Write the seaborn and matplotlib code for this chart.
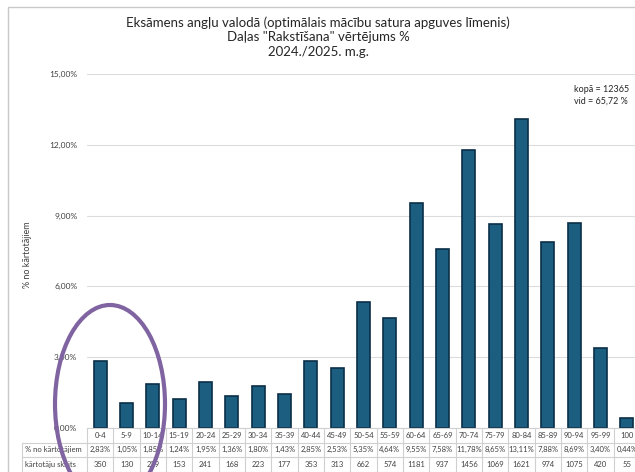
import numpy as np
import pandas as pd
import seaborn as sns
import matplotlib.pyplot as plt
from matplotlib.patches import Ellipse, Rectangle
from matplotlib.ticker import FuncFormatter

# data
categories = ["0-4", "5-9", "10-14", "15-19", "20-24", "25-29", "30-34", "35-39", "40-44", "45-49",
              "50-54", "55-59", "60-64", "65-69", "70-74", "75-79", "80-84", "85-89", "90-94", "95-99", "100"]
percent = [2.83, 1.05, 1.85, 1.24, 1.95, 1.36, 1.80, 1.43, 2.85, 2.53,
           5.35, 4.64, 9.55, 7.58, 11.78, 8.65, 13.11, 7.88, 8.69, 3.40, 0.44]
counts = [350, 130, 229, 153, 241, 168, 223, 177, 353, 313,
          662, 574, 1181, 937, 1456, 1069, 1621, 974, 1075, 420, 55]
yticks = [0, 3, 6, 9, 12, 15]

df = pd.DataFrame({"grupa": categories, "proc": percent, "skaits": counts})

sns.set_style("white")
plt.rcParams["font.family"] = ["Lato", "DejaVu Sans"]

W, H = 635, 472
fig = plt.figure(figsize=(W / 100, H / 100), dpi=100)

# chart border
fig.add_artist(Rectangle((8 / W, -0.1), 1.2, 1 - 7 / H + 0.1, transform=fig.transFigure,
                         fill=False, edgecolor="#c8c8c8", lw=1.0))

ax = fig.add_axes([87 / W, 1 - 428 / H, (640 - 87) / W, (428 - 74) / H])
sns.barplot(data=df, x="grupa", y="proc", ax=ax, width=0.5,
            color="#1b5e80", edgecolor="#0b2f48", linewidth=1.2, saturation=1)
ax.set_xlim(-0.5, len(categories) - 0.5)
ax.set_ylim(0, 15)
ax.set_yticks(yticks)
ax.yaxis.set_major_formatter(FuncFormatter(lambda v, p: f"{v:.2f}%".replace(".", ",")))
ax.tick_params(axis="y", labelsize=6, length=0, pad=7, labelcolor="#404040")
ax.set_xticks([])
ax.set_xlabel("")
ax.set_ylabel("")
ax.grid(axis="y", color="#dcdcdc", lw=0.8)
ax.set_axisbelow(True)
for s in ax.spines.values():
    s.set_visible(False)

# data table under the chart
trans = ax.get_xaxis_transform()
ah = 428 - 74
row_h = 14.5 / ah
bounds = [0, -row_h, -2 * row_h, -3 * row_h]
lab_left = -0.5 - 65 / 26.35
gc = "#d0d0d0"
n = len(categories)
ax.plot([-0.5, n - 0.5], [0, 0], color=gc, lw=0.8, transform=trans, clip_on=False)
for b in bounds[1:]:
    ax.plot([lab_left, n - 0.5], [b, b], color=gc, lw=0.8, transform=trans, clip_on=False)
for i in range(n + 1):
    ax.plot([i - 0.5, i - 0.5], [0, bounds[-1]], color=gc, lw=0.8, transform=trans, clip_on=False)
ax.plot([lab_left, lab_left], [bounds[1], bounds[-1]], color=gc, lw=0.8, transform=trans, clip_on=False)

rows = [categories,
        [f"{p:.2f}%".replace(".", ",") for p in percent],
        [str(c) for c in counts]]
for r, vals in enumerate(rows):
    ym = (bounds[r] + bounds[r + 1]) / 2
    for i, v in enumerate(vals):
        ax.text(i, ym, v, ha="center", va="center", fontsize=5.5, color="#404040",
                transform=trans, clip_on=False)
for r, lab in [(1, "% no kārtotājiem"), (2, "kārtotāju skaits")]:
    ym = (bounds[r] + bounds[r + 1]) / 2
    ax.text(lab_left + 0.1, ym, lab, ha="left", va="center", fontsize=5.5, color="#404040",
            transform=trans, clip_on=False)

fig.text(27 / W, 1 - 255 / H, "% no kārtotājiem", rotation=90, ha="center", va="center",
         fontsize=6.5, color="#404040")

fig.text(318 / W, 1 - 37 / H,
         "Eksāmens angļu valodā (optimālais mācību satura apguves līmenis)\n"
         "Daļas \"Rakstīšana\" vērtējums %\n2024./2025. m.g.",
         ha="center", va="center", fontsize=9.5, linespacing=1.25, color="#262626")

fig.text(574 / W, 1 - 95 / H, "kopā = 12365\nvid = 65,72 %", ha="left", va="center",
         fontsize=6.5, linespacing=1.4, color="#262626")

# purple highlight ellipse
fig.add_artist(Ellipse((110 / W, 1 - 404 / H), 110 / W, 198 / H, transform=fig.transFigure,
                       fill=False, edgecolor="#8064a2", lw=3, zorder=10))

fig.savefig("out.png", dpi=100)
